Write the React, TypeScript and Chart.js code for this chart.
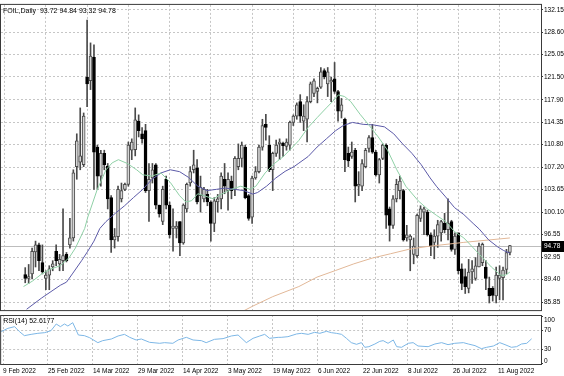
import { useEffect, useRef } from 'react';
import { Chart, registerables } from 'chart.js';

Chart.register(...registerables);

// ---- Data ----
const opens = [
  90.2, 89.6, 90.3, 93.8, 94.9, 92.1, 89.6, 90.1, 91.4, 93.9,
  91.9, 92.4, 93.4, 94.9, 96.0, 107.3, 108.0, 107.6, 121.5, 120.9,
  124.6, 110.4, 105.8, 109.4, 107.4, 102.4, 95.7, 96.2, 102.2, 103.7,
  104.5, 109.9, 110.0, 114.5, 112.5, 113.0, 103.5, 105.5, 107.6, 101.2,
  98.6, 105.3, 101.2, 97.5, 97.5, 98.6, 95.2, 100.6, 104.7, 106.8,
  107.1, 102.7, 102.2, 102.9, 101.7, 98.3, 101.7, 102.2, 105.3, 103.5,
  105.0, 103.7, 107.3, 108.6, 110.4, 102.7, 99.3, 105.5, 106.5, 110.4,
  114.0, 110.7, 106.8, 109.4, 110.9, 111.0, 110.5, 110.7, 114.3, 115.3,
  117.6, 114.5, 114.8, 117.6, 118.9, 119.2, 119.9, 122.5, 120.4, 120.7,
  121.2, 119.2, 116.1, 114.8, 109.4, 108.9, 109.9, 104.2, 104.2, 107.3,
  110.2, 111.9, 109.6, 106.0, 108.6, 110.7, 100.6, 98.0, 102.2, 103.5,
  103.5, 96.0, 95.7, 93.4, 93.2, 99.1, 100.1, 100.1, 96.5, 95.3,
  96.3, 96.8, 98.3, 97.3, 98.6, 94.2, 96.8, 91.1, 89.9, 88.0,
  90.6, 89.6, 91.4, 92.1, 91.4, 88.0, 88.0, 86.8, 89.6, 89.7,
  91.0, 93.72,
];
const highs = [
  91.3, 91.8, 94.4, 95.5, 95.2, 94.9, 90.8, 91.6, 92.4, 94.9,
  93.4, 100.6, 93.7, 99.1, 106.8, 112.5, 116.6, 115.8, 130.5, 126.9,
  126.6, 110.7, 109.9, 109.9, 107.8, 102.7, 97.5, 104.2, 104.7, 104.7,
  111.2, 111.7, 116.6, 115.5, 113.5, 114.0, 107.8, 107.8, 107.8, 101.2,
  104.2, 105.8, 101.7, 100.6, 98.6, 98.6, 101.4, 104.7, 107.3, 109.9,
  108.4, 105.8, 104.0, 103.7, 101.9, 102.4, 102.9, 106.3, 107.8, 106.3,
  105.8, 108.9, 110.9, 111.2, 110.7, 102.9, 105.8, 107.3, 110.7, 114.8,
  115.6, 112.2, 109.6, 111.5, 111.7, 111.2, 111.7, 114.5, 115.5, 117.4,
  118.7, 117.1, 118.4, 120.7, 121.2, 119.9, 123.0, 122.8, 123.0, 121.5,
  123.8, 119.4, 118.1, 115.0, 110.4, 111.2, 110.2, 106.5, 108.4, 110.2,
  112.2, 114.0, 109.9, 108.6, 110.9, 110.9, 100.9, 102.7, 105.3, 105.8,
  103.7, 98.0, 96.5, 96.0, 99.8, 101.1, 100.9, 100.4, 96.8, 97.3,
  98.8, 98.8, 99.9, 102.2, 98.8, 96.8, 96.8, 91.9, 91.1, 92.6,
  92.4, 92.9, 95.2, 95.2, 92.4, 89.8, 88.3, 91.4, 91.6, 91.4,
  94.2, 94.84,
];
const lows = [
  88.9, 88.8, 89.5, 91.4, 90.8, 90.3, 87.8, 87.8, 90.8, 91.6,
  90.8, 90.8, 92.2, 94.4, 95.5, 105.3, 106.8, 107.3, 116.8, 119.5,
  103.7, 103.7, 104.2, 106.8, 100.6, 93.7, 94.4, 95.5, 101.7, 103.5,
  104.2, 108.4, 109.0, 112.0, 111.0, 103.2, 98.6, 104.7, 100.6, 99.3,
  98.1, 100.6, 96.0, 93.9, 96.0, 93.2, 95.0, 100.1, 104.2, 106.3,
  101.4, 100.1, 101.7, 101.1, 95.5, 97.0, 100.1, 100.6, 103.0, 100.4,
  102.2, 102.7, 106.8, 107.3, 102.2, 98.8, 98.3, 105.3, 106.3, 109.9,
  111.5, 106.5, 103.5, 108.9, 108.4, 108.9, 109.9, 109.9, 113.8, 114.8,
  114.3, 113.0, 111.2, 117.4, 118.4, 117.4, 119.7, 121.2, 118.4, 117.6,
  118.9, 114.5, 115.0, 106.5, 107.3, 108.6, 101.7, 102.7, 103.5, 107.1,
  109.6, 109.4, 105.8, 104.7, 108.4, 97.5, 95.5, 97.5, 101.7, 102.2,
  95.5, 95.5, 90.8, 91.9, 92.9, 98.6, 96.5, 96.3, 93.2, 92.7,
  94.5, 95.5, 96.8, 95.7, 93.9, 93.4, 90.3, 87.8, 87.2, 87.3,
  88.8, 89.3, 91.4, 91.6, 87.8, 85.7, 86.0, 85.7, 86.2, 86.2,
  90.3, 93.32,
];
const closes = [
  89.6, 89.9, 93.9, 94.9, 92.4, 90.6, 90.1, 91.1, 91.9, 92.4,
  92.6, 93.2, 92.4, 96.0, 106.3, 111.4, 109.0, 115.3, 120.4, 124.8,
  109.6, 105.8, 109.4, 107.6, 102.2, 95.7, 96.2, 103.7, 103.5, 104.5,
  110.7, 111.2, 114.7, 113.0, 111.7, 103.5, 105.3, 106.8, 101.2, 99.8,
  103.7, 101.2, 96.5, 97.9, 97.9, 95.2, 101.2, 104.5, 106.5, 107.6,
  101.7, 104.0, 103.7, 101.7, 98.3, 101.9, 102.2, 105.8, 104.2, 105.3,
  103.5, 108.6, 108.6, 110.7, 102.4, 99.1, 105.5, 106.5, 110.4, 113.8,
  113.5, 106.8, 109.4, 110.7, 111.2, 110.6, 111.2, 114.3, 115.3, 117.1,
  115.3, 115.3, 117.6, 120.4, 120.9, 119.7, 122.3, 121.5, 122.3, 121.0,
  119.2, 116.1, 117.1, 108.4, 108.2, 109.6, 104.2, 104.5, 107.8, 109.9,
  111.9, 109.6, 106.0, 108.4, 110.7, 99.6, 98.0, 102.2, 104.5, 105.0,
  95.7, 96.5, 96.3, 94.7, 99.6, 100.6, 100.6, 96.5, 94.7, 96.3,
  98.1, 98.6, 97.3, 98.3, 94.2, 96.3, 90.8, 88.8, 88.3, 90.6,
  91.1, 91.6, 94.7, 95.0, 89.6, 86.8, 86.9, 90.1, 90.1, 90.9,
  93.7, 94.78,
];

const dateLabels = [
  '9 Feb 2022', '25 Feb 2022', '14 Mar 2022', '29 Mar 2022', '14 Apr 2022', '3 May 2022',
  '19 May 2022', '6 Jun 2022', '22 Jun 2022', '8 Jul 2022', '26 Jul 2022', '11 Aug 2022',
];
const dateLabelBars = [0, 12, 24, 36, 48, 60, 72, 84, 96, 108, 120, 132];

const priceTicks = [
  85.85, 89.4, 92.95, 96.55, 100.1, 103.65, 107.2, 110.8, 114.35, 117.9, 121.5, 125.05, 128.6, 132.15,
];
const rsiTicks = [0, 30, 70, 100];

// [bar index, value]
const maFast: [number, number][] = [
  [-0.5, 88.3], [2.2, 89.2], [4.8, 90.3], [7.5, 91.1], [10.2, 91.6], [12.8, 92.9], [14.6, 94.4],
  [17.3, 97.5], [18.2, 99.3], [20.9, 103.6], [23.5, 106.8], [25.3, 107.9], [27.1, 108.4],
  [29.7, 107.8], [32.4, 106.8], [34.2, 106.0], [36.9, 105.8], [39.5, 106.3], [42.2, 104.8],
  [44.9, 102.7], [46.7, 101.7], [48.4, 101.9], [50.2, 103.0], [52, 102.7], [54.7, 102.2],
  [57.3, 103.0], [60, 103.7], [62.7, 104.2], [65.4, 103.7], [67.1, 104.2], [69.8, 106.3],
  [72.5, 107.8], [75.1, 108.9], [77.8, 110.4], [79.6, 111.45], [82.3, 113.5], [84.9, 115.05],
  [87.6, 116.6], [89.4, 117.6], [91.1, 118.66], [92.9, 118.4], [94.7, 117.6], [97.4, 115.6],
  [100.1, 113.8], [102.7, 112.0], [105.4, 109.9], [108.1, 106.8], [110.7, 104.2], [114.3, 101.9],
  [117, 100.6], [119.6, 99.6], [122.3, 98.6], [124.9, 97.0], [127.6, 96.0], [130.3, 94.45],
  [133, 92.9], [135.6, 91.4], [138.3, 90.1], [139.7, 90.1], [141, 90.6],
];
const maSlow: [number, number][] = [
  [0.4, 84.7], [4.8, 86.5], [7.5, 87.5], [10.2, 88.5], [12, 89.0], [13.7, 90.3], [16.4, 92.4],
  [18.2, 93.9], [20, 95.5], [21.7, 97.5], [23.5, 98.6], [26.2, 99.9], [28.9, 101.1], [31.5, 102.4],
  [34.2, 103.7], [36.9, 105.3], [39.5, 106.3], [42.2, 106.8], [44.9, 106.5], [47.5, 105.6],
  [50.2, 104.2], [52.9, 103.5], [55.6, 103.7], [58.2, 103.9], [60.9, 103.7], [63.6, 103.5],
  [66.2, 102.95], [67.6, 103.2], [70.2, 104.2], [72.9, 105.5], [75.6, 106.55], [78.2, 107.3],
  [79.6, 107.85], [82.3, 108.9], [84.9, 110.4], [87.6, 111.7], [90.3, 113.0], [92.5, 113.8],
  [95.2, 114.3], [98.3, 114.0], [101.4, 113.9], [104.5, 113.6], [107.2, 112.5], [109.8, 110.9],
  [112.5, 109.4], [115.2, 107.6], [117.8, 105.5], [119.6, 104.2], [122.3, 102.5], [124.9, 100.8],
  [127.6, 99.7], [130.3, 98.3], [132.1, 97.4], [134.8, 95.7], [137.4, 94.6], [139.2, 94.0], [141, 93.6],
];
const maLong: [number, number][] = [
  [63, 84.3], [66.2, 85.2], [72, 86.7], [79.6, 88.3], [84.9, 89.8], [90.3, 90.85], [95.6, 91.9],
  [100.9, 92.8], [106.3, 93.5], [111.6, 94.2], [117, 94.65], [127.6, 95.3], [141, 96.0],
];
const rsiValues: [number, number][] = [
  [-0.5, 67.9], [1.3, 75.0], [3.1, 78.6], [4.4, 67.9], [5.7, 59.3], [7.5, 62.1], [9.3, 64.3],
  [11.1, 65.7], [12.8, 70.0], [14.2, 84.3], [15.3, 78.6], [16.4, 84.3], [17.3, 80.0], [18.6, 87.1],
  [20.1, 60.7], [21.7, 59.3], [23.1, 55.0], [25.3, 44.3], [26.6, 48.6], [28.9, 52.1], [30.7, 58.6],
  [32.4, 62.1], [33.8, 55.7], [35.5, 50.0], [36.9, 52.1], [39.1, 45.0], [41.8, 42.9], [43.1, 44.3],
  [45.3, 42.9], [46.7, 50.0], [48.9, 55.7], [50.7, 50.0], [52.9, 48.6], [54.2, 44.3], [56.4, 51.4],
  [58.7, 52.9], [60.9, 58.6], [62.7, 60.7], [64.9, 44.3], [66.7, 53.6], [68.5, 58.6], [69.8, 62.1],
  [71.1, 53.6], [73.4, 55.7], [74.2, 55.7], [76.0, 57.1], [78.3, 62.9], [79.6, 64.3], [81.4, 62.1],
  [83.1, 66.4], [84.5, 64.3], [86.3, 68.6], [87.6, 65.7], [88.9, 64.3], [90.3, 62.1], [91.6, 53.6],
  [92.9, 44.3], [94.3, 40.7], [95.6, 44.3], [96.5, 34.3], [97.6, 35.7], [99.2, 41.4], [100.5, 47.1],
  [101.4, 48.6], [102.7, 42.9], [104.1, 50.0], [105, 35.7], [106.3, 34.3], [108.1, 42.9],
  [109.4, 44.3], [110.7, 37.1], [113.4, 35.7], [115.2, 41.4], [117, 44.3], [118.7, 40.0],
  [120.5, 42.9], [122.8, 44.3], [124.1, 41.4], [125.9, 37.9], [127.6, 31.4], [129, 34.3],
  [130.8, 37.1], [132.5, 44.3], [133.9, 40.0], [135.6, 34.3], [137, 35.7], [138.3, 41.4],
  [139.7, 42.9], [141, 52.6177],
];

const SYMBOL_TITLE = 'FOIL,Daily';
const RSI_TITLE = 'RSI(14)';

const FONT = 'Liberation Sans';
const GRID = '#c6c6c6';
const FRAME = '#3a3a3a';
const X_MIN = -0.5;
const X_MAX = 143.5;

function setTicks(values: number[]) {
  return (s: any) => {
    s.ticks = values.map((v) => ({ value: v }));
  };
}

export default function App() {
  const mainRef = useRef<HTMLCanvasElement>(null);
  const rsiRef = useRef<HTMLCanvasElement>(null);

  useEffect(() => {
    const last = closes.length - 1;
    const pts = (arr: [number, number][]) => arr.map(([x, y]) => ({ x, y }));

    const mainPlugin = {
      id: 'mainDecor',
      beforeDatasetsDraw(chart: any) {
        const { ctx, chartArea: ca, scales } = chart;
        const y = Math.round(scales.y.getPixelForValue(closes[last])) + 0.5;
        ctx.save();
        ctx.strokeStyle = '#bdbdbd';
        ctx.lineWidth = 1;
        ctx.beginPath();
        ctx.moveTo(ca.left, y);
        ctx.lineTo(ca.right, y);
        ctx.stroke();
        ctx.restore();
      },
      afterDraw(chart: any) {
        const { ctx, chartArea: ca, scales } = chart;
        ctx.save();
        ctx.strokeStyle = FRAME;
        ctx.lineWidth = 1;
        ctx.strokeRect(ca.left - 0.5, ca.top - 0.5, ca.width + 1, ca.height + 1);
        // title
        ctx.fillStyle = '#000';
        ctx.font = `7px "${FONT}"`;
        ctx.textBaseline = 'top';
        ctx.textAlign = 'left';
        const t = `${SYMBOL_TITLE}  ${opens[last].toFixed(2)} ${highs[last].toFixed(2)} ${lows[last].toFixed(2)} ${closes[last].toFixed(2)}`;
        ctx.fillText(t, ca.left + 2, ca.top + 3);
        // price box
        const y = scales.y.getPixelForValue(closes[last]);
        ctx.fillStyle = '#000';
        ctx.fillRect(ca.right + 1, Math.round(y) - 5, 22, 11);
        ctx.fillStyle = '#fff';
        ctx.font = `6.5px "${FONT}"`;
        ctx.textBaseline = 'middle';
        ctx.fillText(closes[last].toFixed(2), ca.right + 3, Math.round(y) + 0.5);
        ctx.restore();
      },
    };

    const main = new Chart(mainRef.current as HTMLCanvasElement, {
      type: 'bar',
      data: {
        datasets: [
          {
            type: 'line',
            data: pts(maFast),
            borderColor: '#8fd0a6',
            borderWidth: 1,
            pointRadius: 0,
            order: 0,
          } as any,
          {
            type: 'line',
            data: pts(maSlow),
            borderColor: '#5c5aa8',
            borderWidth: 1,
            pointRadius: 0,
            order: 0,
          } as any,
          {
            type: 'line',
            data: pts(maLong),
            borderColor: '#e2b898',
            borderWidth: 1,
            pointRadius: 0,
            order: 0,
          } as any,
          {
            type: 'bar',
            data: opens.map((o, i) => ({ x: i, y: [o, closes[i]] })),
            backgroundColor: opens.map((o, i) => (closes[i] >= o ? '#d6d6d6' : '#000')),
            borderColor: opens.map((o, i) => (closes[i] >= o ? '#4a4a4a' : '#000')),
            borderWidth: 1,
            borderSkipped: false,
            barThickness: 3,
            grouped: false,
            order: 1,
          } as any,
          {
            type: 'bar',
            data: lows.map((l, i) => ({ x: i, y: [l, highs[i]] })),
            backgroundColor: '#4a4a4a',
            barThickness: 1,
            grouped: false,
            order: 2,
          } as any,
        ],
      },
      options: {
        responsive: false,
        animation: false,
        events: [],
        layout: { padding: { left: 1, top: 1, right: 0, bottom: 1 } },
        plugins: { legend: { display: false }, tooltip: { enabled: false } },
        scales: {
          x: {
            type: 'linear',
            min: X_MIN,
            max: X_MAX,
            afterBuildTicks: setTicks(dateLabelBars),
            ticks: { display: false },
            grid: { color: GRID, drawTicks: false },
            border: { display: false, dash: [2, 2] },
            afterFit: (s: any) => {
              s.height = 0;
            },
          },
          y: {
            type: 'linear',
            position: 'right',
            min: 84.57,
            max: 132.92,
            afterBuildTicks: setTicks(priceTicks),
            ticks: {
              callback: (v: any) => Number(v).toFixed(2),
              font: { family: FONT, size: 6.5 },
              color: '#000',
              padding: 1,
              autoSkip: false,
            },
            grid: { color: GRID, drawTicks: true, tickLength: 2, tickColor: FRAME },
            border: { display: false, dash: [2, 2] },
            afterFit: (s: any) => {
              s.width = 23;
            },
          },
        },
      } as any,
      plugins: [mainPlugin],
    });

    const rsiPlugin = {
      id: 'rsiDecor',
      afterDraw(chart: any) {
        const { ctx, chartArea: ca, scales } = chart;
        ctx.save();
        ctx.strokeStyle = FRAME;
        ctx.lineWidth = 1;
        ctx.strokeRect(ca.left - 0.5, ca.top + 0.5, ca.width + 1, ca.height);
        ctx.fillStyle = '#000';
        ctx.font = `7px "${FONT}"`;
        ctx.textBaseline = 'top';
        ctx.textAlign = 'left';
        const v = rsiValues[rsiValues.length - 1][1];
        ctx.fillText(`${RSI_TITLE} ${v.toFixed(4)}`, ca.left + 2, ca.top + 3);
        // right axis labels, kept inside the panel like MT4 does
        ctx.font = `6.5px "${FONT}"`;
        ctx.textBaseline = 'middle';
        for (const t of rsiTicks) {
          const py = Math.min(Math.max(scales.y.getPixelForValue(t), ca.top + 5), ca.bottom - 3);
          ctx.fillText(String(t), ca.right + 3, py);
        }
        ctx.restore();
      },
    };

    const rsi = new Chart(rsiRef.current as HTMLCanvasElement, {
      type: 'line',
      data: {
        datasets: [
          {
            data: pts(rsiValues),
            borderColor: '#7db7e6',
            borderWidth: 1,
            pointRadius: 0,
          },
        ],
      },
      options: {
        responsive: false,
        animation: false,
        events: [],
        layout: { padding: { left: 1, top: 10, right: 0, bottom: 0 } },
        plugins: { legend: { display: false }, tooltip: { enabled: false } },
        scales: {
          x: {
            type: 'linear',
            min: X_MIN,
            max: X_MAX,
            afterBuildTicks: setTicks(dateLabelBars),
            ticks: {
              callback: (v: any) => {
                const k = dateLabelBars.indexOf(Number(v));
                return k >= 0 ? dateLabels[k] : '';
              },
              align: 'start',
              maxRotation: 0,
              autoSkip: false,
              font: { family: FONT, size: 6.5 },
              color: '#000',
              padding: 3,
            },
            grid: { color: GRID, drawTicks: false },
            border: { display: false, dash: [2, 2] },
            afterFit: (s: any) => {
              s.height = 12;
            },
          },
          y: {
            type: 'linear',
            position: 'right',
            min: -1.5,
            max: 103.6,
            afterBuildTicks: setTicks(rsiTicks),
            ticks: { display: false },
            grid: {
              color: (c: any) =>
                c.tick && (c.tick.value === 30 || c.tick.value === 70) ? GRID : 'rgba(0,0,0,0)',
              drawTicks: true,
              tickLength: 2,
              tickColor: FRAME,
            },
            border: { display: false, dash: [2, 2] },
            afterFit: (s: any) => {
              s.width = 23;
            },
          },
        },
      } as any,
      plugins: [rsiPlugin],
    });

    return () => {
      main.destroy();
      rsi.destroy();
    };
  }, []);

  return (
    <div style={{ position: 'absolute', left: 0, top: 0, width: 564, height: 376, background: '#fff' }}>
      <canvas ref={mainRef} width={564} height={315} style={{ position: 'absolute', left: 0, top: 0 }} />
      <canvas ref={rsiRef} width={564} height={71} style={{ position: 'absolute', left: 0, top: 305 }} />
    </div>
  );
}
